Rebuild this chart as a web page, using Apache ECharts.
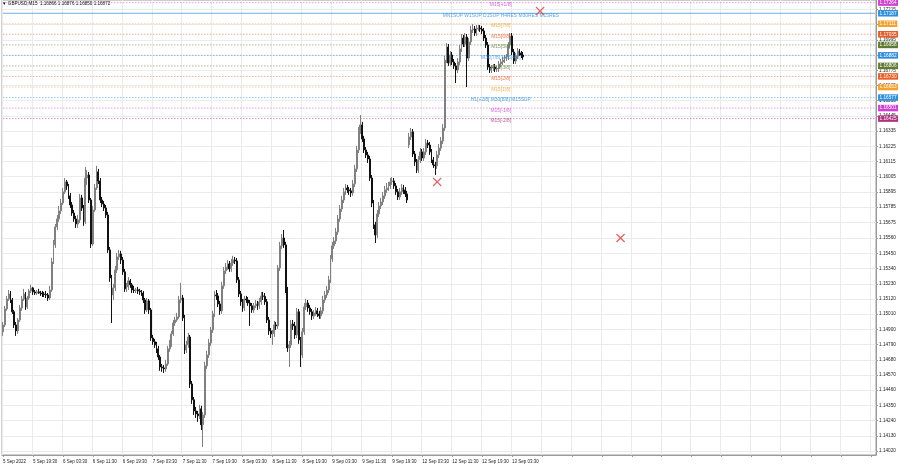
<!DOCTYPE html>
<html><head><meta charset="utf-8">
<script src="https://cdn.jsdelivr.net/npm/echarts@6/dist/echarts.min.js"></script>
<style>html,body{margin:0;padding:0;background:#fff}#c{width:900px;height:468px}</style>
</head><body><div id="c"></div>
<script>
// ---------------- data ----------------
const symbolName = 'GBPUSD,M15';
const lastOHLC = [1.16866, 1.16876, 1.16850, 1.16872];
// trading sessions: [start time, number of 30-minute slots]
const sessions = [['2022-09-05T11:30:00Z', 217], ['2022-09-12T00:00:00Z', 250]];
// bars: [open, close, low, high]
const ohlc = [
[1.14882,1.14932,1.14853,1.14954],[1.14932,1.15048,1.14917,1.15070],[1.15048,1.15120,1.15034,1.15142],[1.15120,1.15156,1.15106,1.15185],
[1.15156,1.15113,1.15091,1.15178],[1.15113,1.15027,1.15012,1.15127],[1.15027,1.14932,1.14910,1.15041],[1.14932,1.14889,1.14853,1.14954],
[1.14889,1.14968,1.14867,1.14983],[1.14968,1.15055,1.14954,1.15077],[1.15055,1.15120,1.15034,1.15142],[1.15120,1.15156,1.15106,1.15193],
[1.15156,1.15062,1.15041,1.15171],[1.15062,1.15127,1.15048,1.15142],[1.15127,1.15178,1.15113,1.15193],[1.15178,1.15200,1.15163,1.15222],
[1.15200,1.15171,1.15149,1.15207],[1.15171,1.15163,1.15149,1.15185],[1.15163,1.15171,1.15149,1.15185],[1.15171,1.15168,1.15156,1.15193],
[1.15168,1.15163,1.15142,1.15178],[1.15163,1.15156,1.15134,1.15178],[1.15156,1.15152,1.15134,1.15171],[1.15152,1.15149,1.15127,1.15178],
[1.15149,1.15127,1.15106,1.15163],[1.15127,1.15185,1.15113,1.15215],[1.15185,1.15388,1.15171,1.15417],[1.15388,1.15511,1.15373,1.15547],
[1.15511,1.15641,1.15489,1.15663],[1.15641,1.15699,1.15619,1.15728],[1.15699,1.15757,1.15678,1.15793],[1.15757,1.15814,1.15735,1.15844],
[1.15814,1.15895,1.15800,1.15923],[1.15895,1.15967,1.15880,1.15995],[1.15967,1.15938,1.15909,1.15981],[1.15938,1.15866,1.15844,1.15952],
[1.15866,1.15800,1.15778,1.15887],[1.15800,1.15742,1.15721,1.15822],[1.15742,1.15699,1.15678,1.15764],[1.15699,1.15663,1.15634,1.15721],
[1.15663,1.15692,1.15634,1.15728],[1.15692,1.15851,1.15670,1.15880],[1.15851,1.15778,1.15757,1.15873],[1.15778,1.15678,1.15649,1.15800],
[1.15678,1.15995,1.15663,1.16075],[1.15995,1.16017,1.15945,1.16053],[1.16017,1.15836,1.15814,1.16039],[1.15836,1.15518,1.15489,1.15851],
[1.15518,1.15764,1.15504,1.15793],[1.15764,1.15923,1.15750,1.15952],[1.15923,1.16039,1.15909,1.16083],[1.16039,1.15974,1.15952,1.16061],
[1.15974,1.15836,1.15814,1.15995],[1.15836,1.15807,1.15785,1.15858],[1.15807,1.15778,1.15757,1.15829],[1.15778,1.15728,1.15706,1.15800],
[1.15728,1.15475,1.15453,1.15750],[1.15475,1.15272,1.15244,1.15496],[1.15272,1.15149,1.14946,1.15294],[1.15149,1.15200,1.15113,1.15229],
[1.15200,1.15330,1.15178,1.15359],[1.15330,1.15424,1.15308,1.15453],[1.15424,1.15446,1.15402,1.15475],[1.15446,1.15402,1.15373,1.15468],
[1.15402,1.15316,1.15294,1.15424],[1.15316,1.15193,1.15171,1.15337],[1.15193,1.15207,1.15171,1.15236],[1.15207,1.15251,1.15185,1.15279],
[1.15251,1.15222,1.15200,1.15265],[1.15222,1.15185,1.15163,1.15236],[1.15185,1.15182,1.15163,1.15215],[1.15182,1.15186,1.15163,1.15200],
[1.15186,1.15178,1.15156,1.15207],[1.15178,1.15171,1.15149,1.15193],[1.15171,1.15163,1.15142,1.15185],[1.15163,1.15113,1.15091,1.15178],
[1.15113,1.15041,1.15012,1.15127],[1.15041,1.15106,1.15027,1.15127],[1.15106,1.15041,1.15012,1.15120],[1.15041,1.14838,1.14817,1.15055],
[1.14838,1.14810,1.14788,1.14860],[1.14810,1.14788,1.14766,1.14831],[1.14788,1.14759,1.14729,1.14810],[1.14759,1.14700,1.14679,1.14781],
[1.14700,1.14628,1.14600,1.14715],[1.14628,1.14621,1.14593,1.14650],[1.14621,1.14614,1.14585,1.14643],[1.14614,1.14650,1.14593,1.14679],
[1.14650,1.14759,1.14636,1.14781],[1.14759,1.14795,1.14737,1.14824],[1.14795,1.14867,1.14773,1.14889],[1.14867,1.14946,1.14853,1.14968],
[1.14946,1.14968,1.14925,1.14990],[1.14968,1.14990,1.14954,1.15019],[1.14990,1.15113,1.14976,1.15142],[1.15113,1.15127,1.15091,1.15236],
[1.15127,1.14983,1.14961,1.15149],[1.14983,1.14751,1.14722,1.15005],[1.14751,1.14788,1.14729,1.14817],[1.14788,1.14845,1.14766,1.14874],
[1.14845,1.14505,1.14476,1.14860],[1.14505,1.14390,1.14361,1.14527],[1.14390,1.14310,1.14281,1.14411],[1.14310,1.14288,1.14259,1.14339],
[1.14288,1.14274,1.14231,1.14310],[1.14274,1.14325,1.14252,1.14354],[1.14325,1.14209,1.14172,1.14347],[1.14209,1.14281,1.14049,1.14303],
[1.14281,1.14636,1.14259,1.14665],[1.14636,1.14715,1.14614,1.14744],[1.14715,1.14802,1.14693,1.14831],[1.14802,1.14896,1.14781,1.14917],
[1.14896,1.15012,1.14874,1.15034],[1.15012,1.15149,1.14990,1.15178],[1.15149,1.15142,1.15113,1.15185],[1.15142,1.15084,1.15062,1.15163],
[1.15084,1.15034,1.15005,1.15106],[1.15034,1.15215,1.15012,1.15244],[1.15215,1.15323,1.15193,1.15351],[1.15323,1.15351,1.15301,1.15380],
[1.15351,1.15373,1.15330,1.15402],[1.15373,1.15337,1.15316,1.15395],[1.15337,1.15380,1.15316,1.15410],[1.15380,1.15402,1.15359,1.15432],
[1.15402,1.15395,1.15373,1.15424],[1.15395,1.15258,1.15236,1.15417],[1.15258,1.15156,1.15134,1.15279],[1.15156,1.15099,1.15070,1.15178],
[1.15099,1.15055,1.15027,1.15120],[1.15055,1.15120,1.15034,1.15142],[1.15120,1.15113,1.15091,1.15142],[1.15113,1.15091,1.15070,1.15134],
[1.15091,1.15070,1.14925,1.15113],[1.15070,1.15041,1.15019,1.15091],[1.15041,1.15070,1.15019,1.15091],[1.15070,1.15084,1.15055,1.15113],
[1.15084,1.15070,1.15041,1.15106],[1.15070,1.15099,1.15048,1.15127],[1.15099,1.15142,1.15077,1.15171],[1.15142,1.15139,1.15113,1.15171],
[1.15139,1.15099,1.15077,1.15163],[1.15099,1.14968,1.14946,1.15120],[1.14968,1.14889,1.14860,1.14990],[1.14889,1.14867,1.14838,1.14910],
[1.14867,1.14870,1.14788,1.14896],[1.14870,1.14932,1.14845,1.14961],[1.14932,1.14925,1.14896,1.14954],[1.14925,1.15344,1.14903,1.15366],
[1.15344,1.15504,1.15323,1.15533],[1.15504,1.15561,1.15482,1.15590],[1.15561,1.15511,1.15489,1.15619],[1.15511,1.15185,1.15163,1.15533],
[1.15185,1.14766,1.14737,1.15207],[1.14766,1.14788,1.14628,1.14817],[1.14788,1.14939,1.14766,1.14968],[1.14939,1.14925,1.14896,1.14968],
[1.14925,1.14860,1.14831,1.14954],[1.14860,1.15027,1.14838,1.15055],[1.15027,1.14824,1.14795,1.15048],[1.14824,1.14715,1.14628,1.14845],
[1.14715,1.14882,1.14693,1.14910],[1.14882,1.15062,1.14860,1.15091],[1.15062,1.15091,1.15041,1.15120],[1.15091,1.15055,1.15027,1.15113],
[1.15055,1.15027,1.15005,1.15077],[1.15027,1.14998,1.14968,1.15048],[1.14998,1.15019,1.14976,1.15041],[1.15019,1.15034,1.14998,1.15062],
[1.15034,1.15012,1.14990,1.15055],[1.15012,1.14998,1.14976,1.15034],[1.14998,1.15034,1.14976,1.15062],[1.15034,1.15113,1.15012,1.15142],
[1.15113,1.15149,1.15091,1.15178],[1.15149,1.15185,1.15127,1.15215],[1.15185,1.15258,1.15163,1.15287],[1.15258,1.15410,1.15236,1.15439],
[1.15410,1.15504,1.15388,1.15533],[1.15504,1.15540,1.15482,1.15568],[1.15540,1.15605,1.15518,1.15634],[1.15605,1.15699,1.15583,1.15728],
[1.15699,1.15771,1.15678,1.15800],[1.15771,1.15836,1.15750,1.15866],[1.15836,1.15895,1.15814,1.15923],[1.15895,1.15923,1.15873,1.15952],
[1.15923,1.15909,1.15887,1.15945],[1.15909,1.15902,1.15873,1.15930],[1.15902,1.15887,1.15858,1.15923],[1.15887,1.15952,1.15866,1.15981],
[1.15952,1.16061,1.15930,1.16090],[1.16061,1.16198,1.16039,1.16227],[1.16198,1.16336,1.16176,1.16364],[1.16336,1.16379,1.16314,1.16451],
[1.16379,1.16278,1.16256,1.16401],[1.16278,1.16198,1.16176,1.16300],[1.16198,1.16162,1.16140,1.16219],[1.16162,1.16133,1.16104,1.16184],
[1.16133,1.15995,1.15974,1.16155],[1.15995,1.15814,1.15785,1.16017],[1.15814,1.15656,1.15627,1.15836],[1.15656,1.15583,1.15525,1.15678],
[1.15583,1.15735,1.15561,1.15764],[1.15735,1.15793,1.15713,1.15822],[1.15793,1.15822,1.15771,1.15851],[1.15822,1.15866,1.15800,1.15895],
[1.15866,1.15909,1.15844,1.15938],[1.15909,1.15923,1.15887,1.15959],[1.15923,1.15938,1.15902,1.15967],[1.15938,1.15967,1.15916,1.15995],
[1.15967,1.15974,1.15945,1.16002],[1.15974,1.15938,1.15916,1.15995],[1.15938,1.15895,1.15873,1.15959],[1.15895,1.15858,1.15836,1.15916],
[1.15858,1.15895,1.15836,1.15923],[1.15895,1.15923,1.15873,1.15952],[1.15923,1.15909,1.15880,1.15945],[1.15909,1.15880,1.15858,1.15930],
[1.15880,1.15836,1.15814,1.15902],
[1.16234,1.16292,1.16212,1.16321],[1.16292,1.16329,1.16270,1.16357],[1.16329,1.16169,1.16147,1.16350],[1.16169,1.16112,1.16083,1.16191],
[1.16112,1.16053,1.16031,1.16133],[1.16053,1.16126,1.16031,1.16155],[1.16126,1.16184,1.16104,1.16212],[1.16184,1.16140,1.16119,1.16205],
[1.16140,1.16184,1.16119,1.16212],[1.16184,1.16248,1.16162,1.16278],[1.16248,1.16234,1.16212,1.16270],[1.16234,1.16184,1.16162,1.16256],
[1.16184,1.16126,1.16104,1.16205],[1.16126,1.16090,1.16068,1.16147],[1.16090,1.16083,1.16017,1.16112],[1.16083,1.16162,1.16061,1.16191],
[1.16162,1.16212,1.16140,1.16241],[1.16212,1.16263,1.16191,1.16292],[1.16263,1.16357,1.16241,1.16386],[1.16357,1.16849,1.16336,1.16878],
[1.16849,1.16943,1.16827,1.16972],[1.16943,1.16827,1.16806,1.16965],[1.16827,1.16885,1.16806,1.16914],[1.16885,1.16835,1.16813,1.16907],
[1.16835,1.16806,1.16784,1.16856],[1.16806,1.16777,1.16682,1.16827],[1.16777,1.16835,1.16755,1.16863],[1.16835,1.16929,1.16813,1.16958],
[1.16929,1.17008,1.16907,1.17037],[1.17008,1.16965,1.16943,1.17030],[1.16965,1.17015,1.16943,1.17044],[1.17015,1.16863,1.16653,1.17037],
[1.16863,1.16980,1.16842,1.17008],[1.16980,1.17066,1.16958,1.17095],[1.17066,1.17073,1.17044,1.17109],[1.17073,1.17044,1.17023,1.17095],
[1.17044,1.17073,1.17023,1.17102],[1.17073,1.17080,1.17059,1.17102],[1.17080,1.17073,1.17052,1.17102],[1.17073,1.17059,1.17037,1.17095],
[1.17059,1.17008,1.16986,1.17080],[1.17008,1.16958,1.16936,1.17030],[1.16958,1.16798,1.16777,1.16979],[1.16798,1.16777,1.16755,1.16820],
[1.16777,1.16791,1.16755,1.16813],[1.16791,1.16798,1.16769,1.16820],[1.16798,1.16784,1.16762,1.16820],[1.16784,1.16787,1.16762,1.16806],
[1.16787,1.16820,1.16762,1.16842],[1.16820,1.16835,1.16798,1.16856],[1.16835,1.16849,1.16813,1.16871],[1.16849,1.16863,1.16827,1.16885],
[1.16863,1.16871,1.16842,1.16892],[1.16871,1.16958,1.16849,1.16979],[1.16958,1.17023,1.16936,1.17044],[1.17023,1.16907,1.16885,1.17044],
[1.16907,1.16842,1.16820,1.16929],[1.16842,1.16878,1.16820,1.16900],[1.16878,1.16914,1.16856,1.16936],[1.16914,1.16900,1.16878,1.16929],
[1.16900,1.16885,1.16863,1.16914],[1.16885,1.16872,1.16850,1.16907]
];
// price-axis tick labels
const yTicks = [1.14020,1.14130,1.14240,1.14350,1.14460,1.14570,1.14680,1.14790,1.14900,1.15010,1.15120,1.15230,
  1.15340,1.15450,1.15560,1.15675,1.15785,1.15895,1.16005,1.16115,1.16225,1.16335,1.16445,1.16555,1.16665,
  1.16775,1.16885,1.16995,1.17105,1.17215];
// Murrey-math style levels
const levelNames = ['M15[+1/8]','MN1SUP W1SUP D1SUP H4RES M30RES M15RES','M15[7/8]','M15[6/8]','M15[5/8]',
  'M30[7/8] M15[4/8]','M15[3/8]','M15[2/8]','M15[1/8]','H1[+2/8] M30[8/8] M15SUP','M15[-1/8]','M15[-2/8]'];
const levelValues = [1.17264,1.17187,1.17111,1.17035,1.16958,1.16882,1.16806,1.16730,1.16653,1.16577,1.16501,1.16425];
const levelTextTime = '2022-09-13 00:30';
// red cross marks [time, price]
const crossMarks = [['2022-09-12 07:30',1.15967],['2022-09-13 11:00',1.17203],['2022-09-14 08:30',1.15561]];

// ---------------- styles ----------------
const levelColors = ['#d23fd2','#2f8ee0','#f2a22e','#ea5c24','#5f7a34','#2f8ee0','#5f7a34','#ea5c24','#f2a22e','#2f8ee0','#d23fd2','#b02f7e'];
const FONT = 'Liberation Sans';
const MONTHS = ['Jan','Feb','Mar','Apr','May','Jun','Jul','Aug','Sep','Oct','Nov','Dec'];

// build category axis (30-minute slots)
const categories = [];
sessions.forEach(([start, n]) => {
  const t0 = Date.parse(start);
  for (let k = 0; k < n; k++) {
    const d = new Date(t0 + k * 1800000);
    const p = v => String(v).padStart(2, '0');
    categories.push(d.getUTCFullYear() + '-' + p(d.getUTCMonth() + 1) + '-' + p(d.getUTCDate()) + ' ' + p(d.getUTCHours()) + ':' + p(d.getUTCMinutes()));
  }
});
const lastBar = ohlc.length - 1;
function fmtCat(v, idx) {
  if (idx > lastBar) return '';
  const [dp, tp] = v.split(' ');
  const [y, m, d] = dp.split('-').map(Number);
  if (idx === 0) return d + ' ' + MONTHS[m - 1] + ' ' + y;
  return d + ' ' + MONTHS[m - 1] + ' ' + tp;
}

const levelSeries = levelValues.map((v, i) => ({
  type: 'line', z: 1, silent: true, symbol: 'none', clip: false,
  data: [[categories[0], v], [categories[categories.length - 1], v]],
  lineStyle: {color: levelColors[i], type: i === 1 ? 'solid' : [1.5, 1.5], width: 1, opacity: i === 1 ? 0.7 : 0.5},
  endLabel: {show: true, distance: 3, formatter: v.toFixed(5), color: '#fff', backgroundColor: levelColors[i],
             padding: [1, 1.5, 0.5, 1.5], fontSize: 4.7, fontFamily: FONT}
}));

const chart = echarts.init(document.getElementById('c'), null, {renderer: 'canvas'});
chart.setOption({
  animation: false,
  backgroundColor: '#ffffff',
  textStyle: {fontFamily: FONT},
  title: {
    text: '\u25BC ' + symbolName + '  ' + lastOHLC.map(v => v.toFixed(5)).join(' '),
    left: 2, top: 1, padding: 0,
    textStyle: {fontSize: 4.6, fontWeight: 'normal', color: '#111', fontFamily: FONT}
  },
  grid: {left: 1, right: 24, top: 0, bottom: 13, show: true, borderColor: '#9a9a9a', borderWidth: 1},
  xAxis: {
    type: 'category', data: categories, boundaryGap: true,
    axisLine: {lineStyle: {color: '#9a9a9a'}},
    axisTick: {show: true, interval: 15, alignWithLabel: true, length: 2, lineStyle: {color: '#9a9a9a'}},
    axisLabel: {interval: 15, formatter: fmtCat, align: 'left', fontSize: 4.5, color: '#222', margin: 4, fontFamily: FONT},
    splitLine: {show: true, interval: 15, lineStyle: {color: '#ebebeb', width: 1}}
  },
  yAxis: {
    type: 'value', position: 'right', scale: true,
    min: 1.13991, max: 1.17283,
    axisLine: {show: true, lineStyle: {color: '#9a9a9a'}},
    axisTick: {show: true, customValues: yTicks, length: 2, lineStyle: {color: '#9a9a9a'}},
    axisLabel: {customValues: yTicks, formatter: v => v.toFixed(5), fontSize: 4.7, color: '#222', margin: 3, fontFamily: FONT},
    splitLine: {show: true, lineStyle: {color: '#ebebeb', width: 1}}
  },
  series: [
    ...levelSeries,
    {
      type: 'candlestick', data: ohlc, barWidth: 1.4, z: 3,
      itemStyle: {color: '#808080', color0: '#111111', borderColor: '#808080', borderColor0: '#111111', borderWidth: 1}
    },
    {
      type: 'scatter', symbolSize: 0, silent: true, z: 5,
      data: levelValues.map((v, i) => ({value: [levelTextTime, v],
        label: {show: true, formatter: levelNames[i], color: levelColors[i], position: 'inside', offset: [0, 2.2],
                fontSize: 4.9, fontFamily: FONT}}))
    },
    {
      type: 'scatter', silent: true, z: 6, symbolSize: 9,
      symbol: 'path://M1,0 L5,4 L9,0 L10,1 L6,5 L10,9 L9,10 L5,6 L1,10 L0,9 L4,5 L0,1 Z',
      itemStyle: {color: '#e0393e'},
      data: crossMarks
    }
  ]
});
</script></body></html>
